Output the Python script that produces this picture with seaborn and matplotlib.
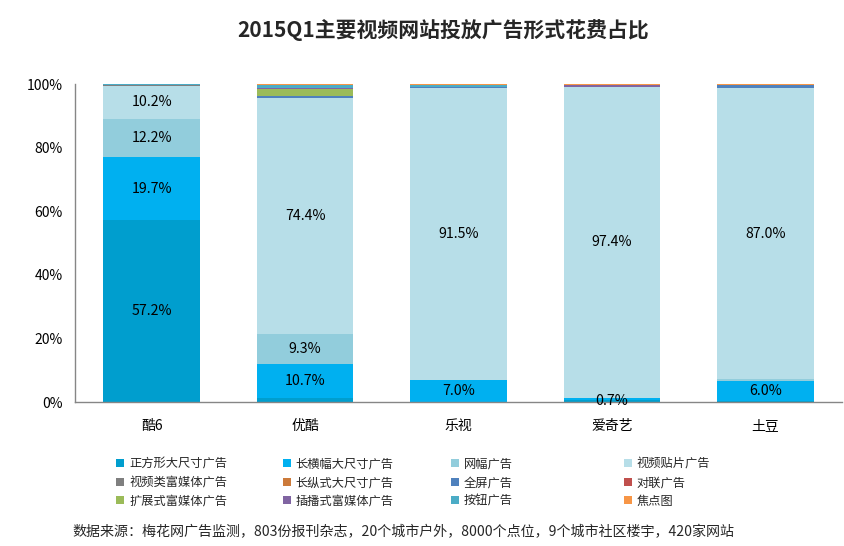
import matplotlib
matplotlib.use('Agg')
import matplotlib.pyplot as plt
import numpy as np
import pandas as pd
import seaborn as sns
from matplotlib.patches import Patch

sites = ['酷6', '优酷', '乐视', '爱奇艺', '土豆']
ad_types = ['正方形大尺寸广告', '长横幅大尺寸广告', '网幅广告', '视频贴片广告',
            '视频类富媒体广告', '长纵式大尺寸广告', '全屏广告', '对联广告',
            '扩展式富媒体广告', '插播式富媒体广告', '按钮广告', '焦点图']
colors = ['#009ECE', '#00B0F0', '#92CDDC', '#B7DEE8',
          '#7F7F7F', '#CC7A3A', '#4F81BD', '#C0504D',
          '#9BBB59', '#8064A2', '#4BACC6', '#F79646']

# share (%) per ad type, one list per type, in site order
square = [57.2, 1.3, 0.0, 0.6, 0.3]
banner_long = [19.7, 10.7, 7.0, 0.7, 6.0]
banner = [12.2, 9.3, 0.0, 0.0, 0.6]
preroll = [10.2, 74.4, 91.5, 97.4, 87.0]
video_rich = [0.3, 0.0, 0.0, 0.0, 0.0]
skyscraper = [0.0, 0.0, 0.0, 0.0, 0.0]
fullscreen = [0.2, 0.6, 0.3, 0.0, 1.0]
couplet = [0.0, 0.0, 0.0, 0.0, 0.0]
expand_rich = [0.0, 2.0, 0.0, 0.0, 0.0]
insert_rich = [0.0, 0.3, 0.0, 0.6, 0.0]
button = [0.2, 1.1, 0.7, 0.0, 0.0]
focus = [0.0, 0.3, 0.3, 0.3, 0.3]

series = [square, banner_long, banner, preroll, video_rich, skyscraper,
          fullscreen, couplet, expand_rich, insert_rich, button, focus]
df = pd.DataFrame(dict(zip(ad_types, series)), index=sites)
share = df.div(df.sum(axis=1), axis=0)  # 100% stacked, like the original

sns.set_theme(style='white')
plt.rcParams['font.family'] = ['Noto Sans CJK SC', 'DejaVu Sans']

fig = plt.figure(figsize=(8.44, 5.46), dpi=100)
ax = fig.add_axes([0.0889, 0.2637, 0.9087, 0.5824])

x = np.arange(len(sites))
bottom = np.zeros(len(sites))
for name, color in zip(ad_types, colors):
    h = share[name].values
    ax.bar(x, h, width=0.63, bottom=bottom, color=color, linewidth=0)
    for i in range(len(sites)):
        v = df[name].values[i]
        if v >= 5 or (name == '长横幅大尺寸广告' and v > 0):
            yc = bottom[i] + h[i] / 2 if v >= 2 else bottom[i] - 0.004
            ax.text(x[i], yc, f'{v:.1f}%', ha='center', va='center',
                    fontsize=10.2, color='black')
    bottom += h

ax.set_xlim(-0.5, len(sites) - 0.5)
ax.set_ylim(0, 1)
ax.set_yticks(np.linspace(0, 1, 6))
ax.set_yticklabels([f'{int(t)}%' for t in np.linspace(0, 100, 6)], fontsize=10)
ax.set_xticks(x)
ax.set_xticklabels(sites, fontsize=10)
ax.tick_params(axis='y', length=0, pad=9, colors='black')
ax.tick_params(axis='x', length=0, pad=12, colors='black')
for s in ['top', 'right']:
    ax.spines[s].set_visible(False)
for s in ['left', 'bottom']:
    ax.spines[s].set_color('#868686')
    ax.spines[s].set_linewidth(1)

fig.text(0.525, 0.945, '2015Q1主要视频网站投放广告形式花费占比', ha='center', va='center',
         fontsize=15, fontweight='bold')

col_x = [0.138, 0.335, 0.534, 0.739]
for c in range(4):
    handles = [Patch(facecolor=colors[c + 4 * r], edgecolor='none') for r in range(3)]
    labels = [ad_types[c + 4 * r] for r in range(3)]
    fig.legend(handles, labels, loc='upper left', bbox_to_anchor=(col_x[c], 0.162),
               frameon=False, fontsize=8.8, handlelength=0.65, handleheight=0.65,
               handletextpad=0.4, labelspacing=0.45, borderpad=0, borderaxespad=0)

fig.text(0.086, 0.025,
         '数据来源：梅花网广告监测，803份报刊杂志，20个城市户外，8000个点位，9个城市社区楼宇，420家网站',
         ha='left', va='center', fontsize=10.1)

fig.savefig('out.png', dpi=100)
